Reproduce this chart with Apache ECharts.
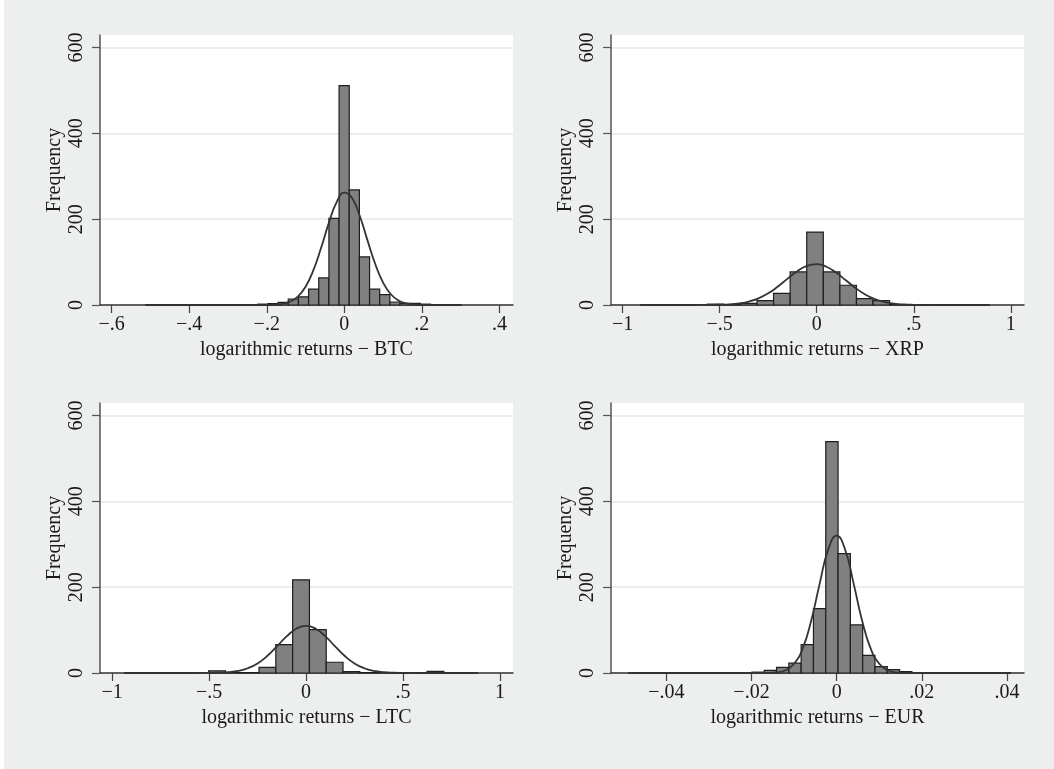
<!DOCTYPE html>
<html>
<head>
<meta charset="utf-8">
<script src="https://cdn.jsdelivr.net/npm/echarts@6/dist/echarts.min.js"></script>
<style>
  html, body { margin: 0; padding: 0; background: #ffffff; }
  #chart { width: 1054px; height: 769px; }
</style>
</head>
<body>
<div id="chart"></div>
<script>
// histogram bins: first left edge, bin width, counts per bin
var btcStart = -0.5113, btcWidth = 0.0262;
var btcCounts = [1, 0, 0, 0, 0, 0, 0, 1, 1, 0, 0, 2, 3, 6, 14, 19, 37, 63, 202, 511, 268, 112, 37, 24, 7, 4, 4, 2, 1, 0, 1];

var xrpStart = -0.9055, xrpWidth = 0.0854;
var xrpCounts = [1, 0, 0, 0, 2, 1, 4, 10, 27, 77, 170, 77, 46, 15, 10, 1, 1, 1, 0, 0, 1];

var ltcStart = -0.935, ltcWidth = 0.0866;
var ltcCounts = [1, 0, 0, 0, 0, 5, 1, 1, 13, 66, 217, 101, 25, 3, 1, 1, 1, 0, 4, 0, 1];

var eurStart = -0.0488, eurWidth = 0.00289;
var eurCounts = [1, 0, 0, 0, 0, 0, 0, 0, 1, 0, 2, 6, 13, 23, 66, 150, 539, 278, 112, 41, 15, 8, 3, 0, 0, 0, 0, 0, 0, 0, 1];

// normal density overlay as [x, frequency]
var btcCurveX = [-0.511, -0.26, -0.24, -0.22, -0.2, -0.18, -0.16, -0.14, -0.12, -0.10, -0.08, -0.06, -0.04, -0.02, 0, 0.02, 0.04, 0.06, 0.08, 0.10, 0.12, 0.14, 0.16, 0.18, 0.2, 0.22, 0.24, 0.301];
var btcCurveY = [0, 0, 0, 0, 0.2, 0.8, 2.8, 7.9, 19.5, 42.5, 80.5, 132.6, 190.7, 239, 261.6, 249.4, 207.2, 150, 94.8, 52.2, 25, 10.5, 3.8, 1.2, 0.3, 0, 0, 0];

var xrpCurveX = [-0.905, -0.7, -0.65, -0.6, -0.55, -0.5, -0.45, -0.4, -0.35, -0.3, -0.25, -0.2, -0.15, -0.1, -0.05, 0, 0.05, 0.1, 0.15, 0.2, 0.25, 0.3, 0.35, 0.4, 0.45, 0.5, 0.55, 0.6, 0.65, 0.888];
var xrpCurveY = [0, 0, 0, 0.1, 0.2, 0.6, 1.5, 3.7, 8.0, 15.5, 27.2, 43.1, 61.4, 78.8, 91.1, 95, 89.2, 75.5, 57.6, 39.6, 24.6, 13.7, 6.9, 3.1, 1.3, 0.5, 0.2, 0.1, 0, 0];

var ltcCurveX = [-0.935, -0.65, -0.6, -0.55, -0.5, -0.45, -0.4, -0.35, -0.3, -0.25, -0.2, -0.15, -0.1, -0.05, 0, 0.05, 0.1, 0.15, 0.2, 0.25, 0.3, 0.35, 0.4, 0.45, 0.5, 0.55, 0.6, 0.65, 0.884];
var ltcCurveY = [0, 0, 0, 0.1, 0.2, 0.6, 1.9, 4.8, 11.1, 22.3, 39.6, 62, 85.2, 103.2, 110, 103.2, 85.2, 62, 39.6, 22.3, 11.1, 4.8, 1.9, 0.6, 0.2, 0.1, 0, 0, 0];

var eurCurveX = [-0.0488, -0.024, -0.022, -0.02, -0.018, -0.016, -0.014, -0.012, -0.010, -0.008, -0.006, -0.004, -0.002, 0, 0.002, 0.004, 0.006, 0.008, 0.010, 0.012, 0.014, 0.016, 0.018, 0.02, 0.022, 0.0408];
var eurCurveY = [0, 0, 0, 0, 0.1, 0.3, 1.6, 6.5, 21.4, 56.7, 121, 207.6, 287, 320, 287, 207.6, 121, 56.7, 21.4, 6.5, 1.6, 0.3, 0.1, 0, 0, 0];

// axis ticks and labels
var freqTicks = [0, 200, 400, 600];
var btcTicks = [-0.6, -0.4, -0.2, 0, 0.2, 0.4];
var wideTicks = [-1, -0.5, 0, 0.5, 1];
var eurTicks = [-0.04, -0.02, 0, 0.02, 0.04];

var titles = ['logarithmic returns \u2212 BTC', 'logarithmic returns \u2212 XRP',
              'logarithmic returns \u2212 LTC', 'logarithmic returns \u2212 EUR'];

var FONT = 'Liberation Serif';

function bins(start, width, counts) {
  var out = [];
  for (var i = 0; i < counts.length; i++) {
    out.push([start + i * width, start + (i + 1) * width, counts[i]]);
  }
  return out;
}
function pairs(xs, ys) {
  return xs.map(function (x, i) { return [x, ys[i]]; });
}
// Stata style: -.6, .2 ...
function stataNum(v) {
  if (Math.abs(v) < 1e-12) return '0';
  var s = String(Math.abs(+v.toPrecision(6))).replace(/^0\./, '.');
  return (v < 0 ? '\u2212' : '') + s;
}

var panels = [
  { left: 100, top: 35, min: -0.63, max: 0.435, ticks: btcTicks, data: bins(btcStart, btcWidth, btcCounts), curve: pairs(btcCurveX, btcCurveY) },
  { left: 611, top: 35, min: -1.06, max: 1.068, ticks: wideTicks, data: bins(xrpStart, xrpWidth, xrpCounts), curve: pairs(xrpCurveX, xrpCurveY) },
  { left: 100, top: 403, min: -1.062, max: 1.067, ticks: wideTicks, data: bins(ltcStart, ltcWidth, ltcCounts), curve: pairs(ltcCurveX, ltcCurveY) },
  { left: 611, top: 403, min: -0.053, max: 0.044, ticks: eurTicks, data: bins(eurStart, eurWidth, eurCounts), curve: pairs(eurCurveX, eurCurveY) }
];

var chart = echarts.init(document.getElementById('chart'));

var grid = [], xAxis = [], yAxis = [], series = [];
panels.forEach(function (p, k) {
  grid.push({
    left: p.left, top: p.top, width: 413, height: 270,
    show: true, backgroundColor: '#ffffff', borderWidth: 0
  });
  xAxis.push({
    type: 'value', gridIndex: k, min: p.min, max: p.max,
    name: titles[k], nameLocation: 'middle', nameGap: 35,
    nameTextStyle: { fontFamily: FONT, fontSize: 20, color: '#1a1a1a' },
    axisLine: { show: true, onZero: false, lineStyle: { color: '#333', width: 1.5 } },
    axisTick: { show: true, inside: false, length: 8, customValues: p.ticks, lineStyle: { color: '#444', width: 1.2 } },
    axisLabel: { customValues: p.ticks, margin: 10, fontFamily: FONT, fontSize: 20, color: '#1a1a1a', formatter: stataNum },
    splitLine: { show: false }
  });
  yAxis.push({
    type: 'value', gridIndex: k, min: 0, max: 629, interval: 200,
    name: 'Frequency', nameLocation: 'middle', nameRotate: 90, nameGap: 35,
    nameTextStyle: { fontFamily: FONT, fontSize: 20, color: '#1a1a1a' },
    axisLine: { show: true, onZero: false, lineStyle: { color: '#555', width: 1.5 } },
    axisTick: { show: true, inside: false, length: 8, customValues: freqTicks, lineStyle: { color: '#555', width: 1.2 } },
    axisLabel: { customValues: freqTicks, rotate: 90, margin: 13, fontFamily: FONT, fontSize: 20, color: '#1a1a1a' },
    splitLine: { show: true, lineStyle: { color: '#e6e6e6', width: 1.5 } }
  });
  series.push({
    type: 'custom', xAxisIndex: k, yAxisIndex: k, z: 2,
    encode: { x: [0, 1], y: 2 },
    data: p.data,
    renderItem: function (params, api) {
      var c = api.value(2);
      if (!c) return null;
      var a = api.coord([api.value(0), c]);
      var b = api.coord([api.value(1), 0]);
      return {
        type: 'rect',
        shape: { x: a[0], y: a[1], width: b[0] - a[0], height: b[1] - a[1] },
        style: { fill: '#808080', stroke: '#1e1e1e', lineWidth: 1.2 }
      };
    }
  });
  series.push({
    type: 'line', xAxisIndex: k, yAxisIndex: k, z: 3,
    data: p.curve, showSymbol: false, symbol: 'none',
    smooth: 0.5,
    lineStyle: { color: '#333333', width: 1.8 }
  });
});

chart.setOption({
  backgroundColor: '#edeeee',
  animation: false,
  graphic: [{ type: 'rect', left: 0, top: 0, shape: { width: 4, height: 769 }, style: { fill: '#ffffff' } }],
  grid: grid,
  xAxis: xAxis,
  yAxis: yAxis,
  series: series
});
</script>
</body>
</html>
